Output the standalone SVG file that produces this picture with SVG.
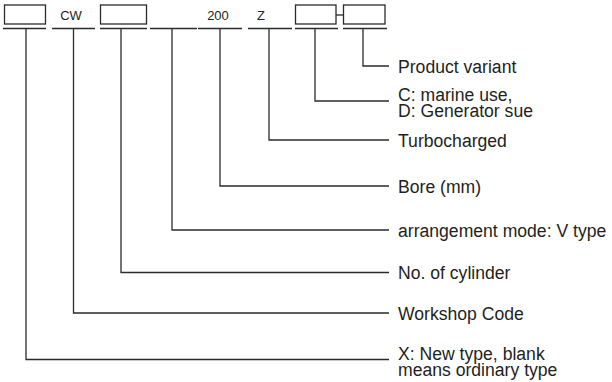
<svg xmlns="http://www.w3.org/2000/svg" width="612" height="382" viewBox="0 0 612 382">
<style>
.ln{fill:none;stroke:#2b2b2b;stroke-width:1.3}
.bx{fill:#fff;stroke:#2b2b2b;stroke-width:1.3}
.t{font-family:"Liberation Sans",Arial,sans-serif;font-size:17.6px;fill:#231f20}
.s{font-family:"Liberation Sans",Arial,sans-serif;font-size:13px;fill:#231f20}
</style>
<rect width="612" height="382" fill="#fff"/>
<g id="code">
<rect class="bx" x="4.5" y="5" width="41" height="19"/>
<text class="s" x="71" y="20" text-anchor="middle">CW</text>
<rect class="bx" x="100.5" y="5" width="46" height="19"/>
<text class="s" x="218" y="20" text-anchor="middle">200</text>
<text class="s" x="261" y="20" text-anchor="middle">Z</text>
<rect class="bx" x="295.5" y="5" width="40.5" height="19"/>
<line class="ln" x1="336" y1="15" x2="343.5" y2="15"/>
<rect class="bx" x="343.5" y="5" width="41.5" height="19"/>
<g class="ln">
<line x1="3" y1="28.5" x2="46" y2="28.5"/>
<line x1="52" y1="28.5" x2="95" y2="28.5"/>
<line x1="100" y1="28.5" x2="147" y2="28.5"/>
<line x1="150" y1="28.5" x2="197" y2="28.5"/>
<line x1="198" y1="28.5" x2="242" y2="28.5"/>
<line x1="248" y1="28.5" x2="292" y2="28.5"/>
<line x1="295" y1="28.5" x2="338" y2="28.5"/>
<line x1="343" y1="28.5" x2="387" y2="28.5"/>
</g>
</g>
<g id="connectors" class="ln">
<polyline points="363,28.5 363,66 389,66"/>
<polyline points="315,28.5 315,101 389,101"/>
<polyline points="269,28.5 269,140 389,140"/>
<polyline points="220,28.5 220,186 389,186"/>
<polyline points="172,28.5 172,230 389,230"/>
<polyline points="121,28.5 121,272.5 389,272.5"/>
<polyline points="73.5,28.5 73.5,313 389,313"/>
<polyline points="26,28.5 26,359.5 389,359.5"/>
</g>
<g id="label-variant"><text class="t" x="398" y="73">Product variant</text></g>
<g id="label-use"><text class="t" x="398" y="100.5">C: marine use,</text><text class="t" x="398" y="117.2">D: Generator sue</text></g>
<g id="label-turbo"><text class="t" x="398" y="146.5">Turbocharged</text></g>
<g id="label-bore"><text class="t" x="398" y="192.5">Bore (mm)</text></g>
<g id="label-arr"><text class="t" x="398" y="236.5">arrangement mode: V type</text></g>
<g id="label-cyl"><text class="t" x="398" y="279">No. of cylinder</text></g>
<g id="label-ws"><text class="t" x="398" y="319.5">Workshop Code</text></g>
<g id="label-new"><text class="t" x="398" y="360">X: New type, blank</text><text class="t" x="398" y="376">means ordinary type</text></g>
</svg>
